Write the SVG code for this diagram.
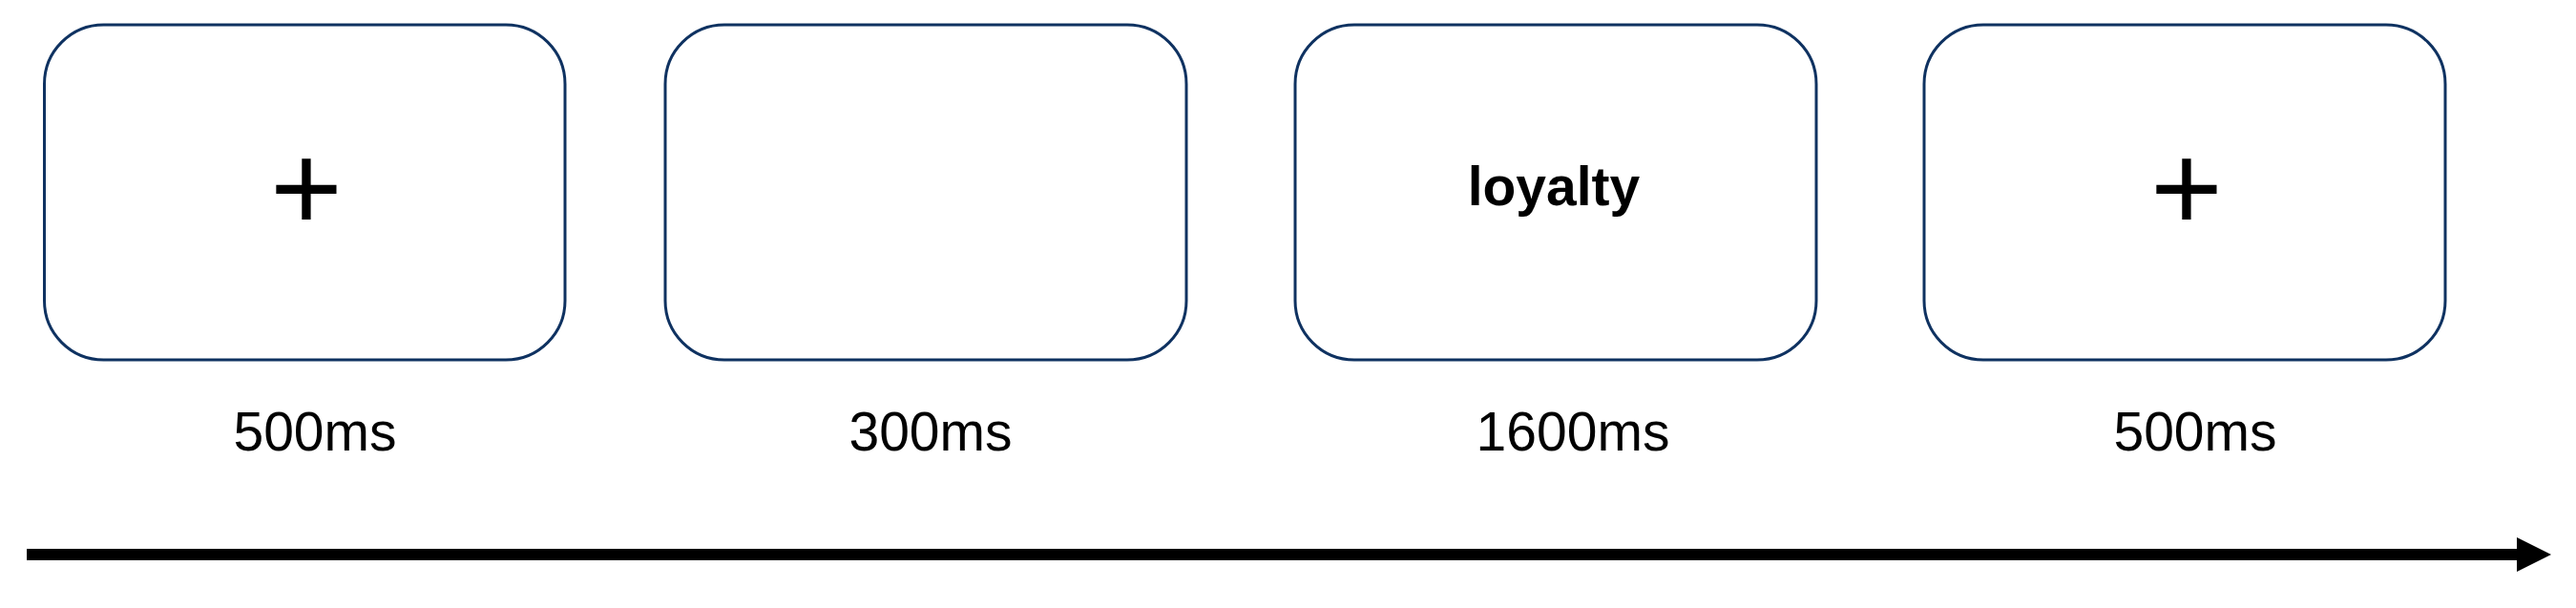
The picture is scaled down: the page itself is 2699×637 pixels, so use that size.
<svg xmlns="http://www.w3.org/2000/svg" width="2699" height="637" viewBox="0 0 2699 637">
<style>
.box{fill:#ffffff;stroke:#0f3261;stroke-width:3}
.lbl{font-family:"Liberation Sans",Arial,sans-serif;font-size:57px;fill:#000;text-anchor:middle}
.plus{font-family:"Liberation Sans",Arial,sans-serif;font-size:130px;fill:#000;text-anchor:middle}
.word{font-family:"Liberation Sans",Arial,sans-serif;font-size:57px;font-weight:bold;fill:#000;text-anchor:middle}
</style>
<defs>
<marker id="ah" markerUnits="userSpaceOnUse" markerWidth="40" markerHeight="40" refX="0" refY="18" orient="auto">
<path d="M0,0 L36,18 L0,36 Z" fill="#000"/>
</marker>
</defs>
<rect width="2699" height="637" fill="#ffffff"/>
<g id="node1">
<rect class="box" x="46.5" y="26" width="545.5" height="351" rx="62" ry="62"/>
<text class="plus" x="321" y="241">+</text>
<text class="lbl" x="330" y="472">500ms</text>
</g>
<g id="node2">
<rect class="box" x="697" y="26" width="546" height="351" rx="62" ry="62"/>
<text class="lbl" x="975" y="472">300ms</text>
</g>
<g id="node3">
<rect class="box" x="1357" y="26" width="546" height="351" rx="62" ry="62"/>
<text class="word" x="1628" y="215">loyalty</text>
<text class="lbl" x="1648" y="472">1600ms</text>
</g>
<g id="node4">
<rect class="box" x="2016" y="26" width="546" height="351" rx="62" ry="62"/>
<text class="plus" x="2291" y="241">+</text>
<text class="lbl" x="2300" y="472">500ms</text>
</g>
<g id="connectors">
<line x1="28" y1="581" x2="2637" y2="581" stroke="#000" stroke-width="12" marker-end="url(#ah)"/>
</g>
</svg>
